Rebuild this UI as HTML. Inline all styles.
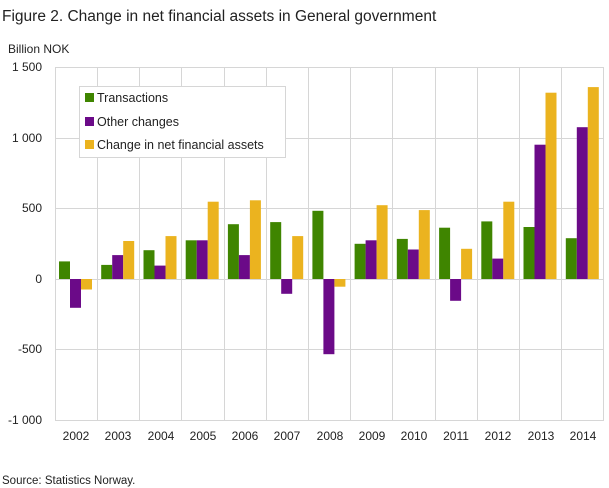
<!DOCTYPE html>
<html><head><meta charset="utf-8"><style>
body{margin:0;background:#fff;}
svg{display:block;font-family:"Liberation Sans",sans-serif;}
</style></head><body>
<svg width="609" height="488" xmlns="http://www.w3.org/2000/svg">
<text x="2" y="21" font-size="15.5" fill="#222">Figure 2. Change in net financial assets in General government</text>
<text x="8" y="53" font-size="12" fill="#222">Billion  NOK</text>
<g stroke="#d6d6d6" stroke-width="1">
<line x1="55" y1="67.5" x2="604" y2="67.5"/><line x1="55" y1="138.5" x2="604" y2="138.5"/><line x1="55" y1="208.5" x2="604" y2="208.5"/><line x1="55" y1="279.5" x2="604" y2="279.5"/><line x1="55" y1="349.5" x2="604" y2="349.5"/><line x1="55" y1="420.5" x2="604" y2="420.5"/>
<line x1="55.5" y1="67" x2="55.5" y2="420"/><line x1="97.5" y1="67" x2="97.5" y2="420"/><line x1="139.5" y1="67" x2="139.5" y2="420"/><line x1="181.5" y1="67" x2="181.5" y2="420"/><line x1="224.5" y1="67" x2="224.5" y2="420"/><line x1="266.5" y1="67" x2="266.5" y2="420"/><line x1="308.5" y1="67" x2="308.5" y2="420"/><line x1="350.5" y1="67" x2="350.5" y2="420"/><line x1="392.5" y1="67" x2="392.5" y2="420"/><line x1="435.5" y1="67" x2="435.5" y2="420"/><line x1="477.5" y1="67" x2="477.5" y2="420"/><line x1="519.5" y1="67" x2="519.5" y2="420"/><line x1="561.5" y1="67" x2="561.5" y2="420"/><line x1="603.5" y1="67" x2="603.5" y2="420"/>
</g>
<g font-size="12" fill="#222" text-anchor="end">
<text x="42" y="71">1 500</text><text x="42" y="142">1 000</text><text x="42" y="212">500</text><text x="42" y="283">0</text><text x="42" y="353">-500</text><text x="42" y="424">-1 000</text>
</g>
<g font-size="12" fill="#222" text-anchor="middle">
<text x="76" y="440">2002</text><text x="118" y="440">2003</text><text x="161" y="440">2004</text><text x="203" y="440">2005</text><text x="245" y="440">2006</text><text x="287" y="440">2007</text><text x="330" y="440">2008</text><text x="372" y="440">2009</text><text x="414" y="440">2010</text><text x="456" y="440">2011</text><text x="498" y="440">2012</text><text x="541" y="440">2013</text><text x="583" y="440">2014</text>
</g>
<g fill="#3f8500">
<rect x="59" y="261.4" width="11" height="17.6"/><rect x="101.2" y="264.9" width="11" height="14.1"/><rect x="143.5" y="250.2" width="11" height="28.8"/><rect x="185.7" y="240.3" width="11" height="38.7"/><rect x="227.9" y="224.2" width="11" height="54.8"/><rect x="270.2" y="222.1" width="11" height="56.9"/><rect x="312.4" y="210.8" width="11" height="68.2"/><rect x="354.6" y="243.8" width="11" height="35.2"/><rect x="396.8" y="238.9" width="11" height="40.1"/><rect x="439.1" y="227.7" width="11" height="51.3"/><rect x="481.3" y="221.4" width="11" height="57.6"/><rect x="523.5" y="227" width="11" height="52"/><rect x="565.8" y="238.2" width="11" height="40.8"/>
</g>
<g fill="#6b0a88">
<rect x="70" y="279" width="11" height="28.8"/><rect x="112.2" y="255.1" width="11" height="23.9"/><rect x="154.5" y="265.6" width="11" height="13.4"/><rect x="196.7" y="240.3" width="11" height="38.7"/><rect x="238.9" y="255.1" width="11" height="23.9"/><rect x="281.2" y="279" width="11" height="14.8"/><rect x="323.4" y="279" width="11" height="75.2"/><rect x="365.6" y="240.3" width="11" height="38.7"/><rect x="407.8" y="249.5" width="11" height="29.5"/><rect x="450.1" y="279" width="11" height="21.8"/><rect x="492.3" y="258.6" width="11" height="20.4"/><rect x="534.5" y="144.7" width="11" height="134.3"/><rect x="576.8" y="127.2" width="11" height="151.8"/>
</g>
<g fill="#ebb31f">
<rect x="81" y="279" width="11" height="10.5"/><rect x="123.2" y="241" width="11" height="38"/><rect x="165.5" y="236.1" width="11" height="42.9"/><rect x="207.7" y="201.7" width="11" height="77.3"/><rect x="249.9" y="200.3" width="11" height="78.7"/><rect x="292.2" y="236.1" width="11" height="42.9"/><rect x="334.4" y="279" width="11" height="7.7"/><rect x="376.6" y="205.2" width="11" height="73.8"/><rect x="418.8" y="210.1" width="11" height="68.9"/><rect x="461.1" y="248.8" width="11" height="30.2"/><rect x="503.3" y="201.7" width="11" height="77.3"/><rect x="545.5" y="92.7" width="11" height="186.3"/><rect x="587.8" y="87.1" width="11" height="191.9"/>
</g>
<rect x="79.5" y="86.5" width="206" height="71" fill="#fff" stroke="#d6d6d6"/>
<rect x="85" y="93" width="9" height="9" fill="#3f8500"/>
<rect x="85" y="117" width="9" height="9" fill="#6b0a88"/>
<rect x="85" y="140" width="9" height="9" fill="#ebb31f"/>
<g font-size="12.5" fill="#222">
<text x="97" y="102">Transactions</text><text x="97" y="126">Other changes</text><text x="97" y="149">Change in net financial assets</text>
</g>
<text x="2" y="484" font-size="11.5" fill="#222">Source: Statistics Norway.</text>
</svg>
</body></html>
